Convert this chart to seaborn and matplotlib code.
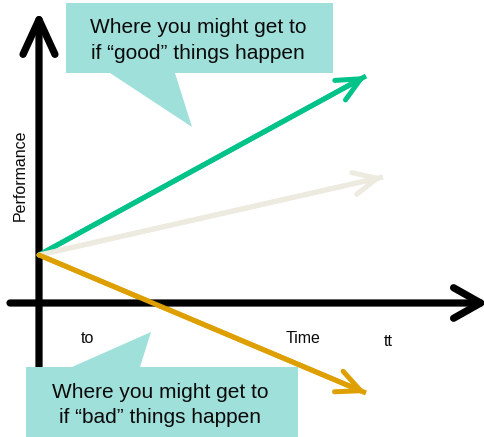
import matplotlib
matplotlib.use("Agg")
import matplotlib.pyplot as plt
from matplotlib.patches import Polygon
from matplotlib.patches import ArrowStyle
import seaborn as sns
import pandas as pd

# ---- data (time, performance) ----
scenarios = ["good", "expected", "bad"]
time_start = [0, 0, 0]
perf_start = [48, 48, 48]
time_end = [327, 344, 327]
perf_end = [227, 126, -90]
colors = {"good": "#00C389", "expected": "#EDEAE0", "bad": "#DDA000"}

axis_labels = ["to", "Time", "tt"]
callout_good = ["Where you might get to", "if \u201cgood\u201d things happen"]
callout_bad = ["Where you might get to", "if \u201cbad\u201d things happen"]

rows = []
for s, t0, p0, t1, p1 in zip(scenarios, time_start, perf_start, time_end, perf_end):
    rows.append({"scenario": s, "time": t0, "performance": p0})
    rows.append({"scenario": s, "time": t1, "performance": p1})
df = pd.DataFrame(rows)

sns.set_style("white")
plt.rcParams["font.family"] = ["Liberation Sans", "DejaVu Sans"]

fig = plt.figure(figsize=(4.85, 4.37), dpi=100)
ax = fig.add_axes([0, 0, 1, 1])
ax.set_xlim(-39, 446)
ax.set_ylim(-134, 303)
ax.axis("off")

# axes arrows
ax.annotate("", xy=(0, 292), xytext=(0, -134),
            arrowprops=dict(arrowstyle=ArrowStyle("->", head_length=25, head_width=11.5),
                            mutation_scale=1, lw=5.2, color="black",
                            shrinkA=0, shrinkB=0, capstyle="round", joinstyle="round"))
ax.annotate("", xy=(449, 0), xytext=(-29, 0),
            arrowprops=dict(arrowstyle=ArrowStyle("->", head_length=19.5, head_width=11),
                            mutation_scale=1, lw=5.2, color="black",
                            shrinkA=0, shrinkB=0, capstyle="round", joinstyle="round"),
            annotation_clip=False)

# scenario lines
sns.lineplot(data=df, x="time", y="performance", hue="scenario",
             palette=colors, linewidth=3.6, legend=False, ax=ax,
             solid_capstyle="butt", sort=False, estimator=None, units="scenario")
for s, t0, p0, t1, p1 in zip(scenarios, time_start, perf_start, time_end, perf_end):
    ax.annotate("", xy=(t1, p1), xytext=(t0, p0),
                arrowprops=dict(arrowstyle=ArrowStyle("->", head_length=17, head_width=8),
                                mutation_scale=1, lw=3.6, color=colors[s],
                                shrinkA=0, shrinkB=0, capstyle="round", joinstyle="miter"))

# callouts
teal = "#A0E0DB"
ax.add_patch(Polygon([(27, 300), (294, 300), (294, 230), (136, 230), (153, 176),
                      (71, 230), (27, 230)], closed=True, fc=teal, ec="none", zorder=5))
ax.add_patch(Polygon([(-13, -64), (33, -64), (112, -29), (101, -64), (259, -64),
                      (259, -140), (-13, -140)], closed=True, fc=teal, ec="none", zorder=5))

fs = 15
tc = "#0A0A0A"
ax.text(159, 270, callout_good[0], ha="center", va="baseline", fontsize=fs, color=tc, zorder=6)
ax.text(159, 244, callout_good[1], ha="center", va="baseline", fontsize=fs, color=tc, zorder=6)
ax.text(121, -95, callout_bad[0], ha="center", va="baseline", fontsize=fs, color=tc, zorder=6)
ax.text(121, -120, callout_bad[1], ha="center", va="baseline", fontsize=fs, color=tc, zorder=6)

# small labels
sfs = 11.5
ax.text(48, -40, axis_labels[0], ha="center", va="baseline", fontsize=sfs, color=tc)
ax.text(264, -40, axis_labels[1], ha="center", va="baseline", fontsize=sfs, color=tc)
ax.text(349, -43, axis_labels[2], ha="center", va="baseline", fontsize=sfs, color=tc)
ax.text(-19, 128, "Performance", rotation=90, ha="center", va="center", fontsize=sfs, color=tc)

fig.savefig("out.png", dpi=100)
